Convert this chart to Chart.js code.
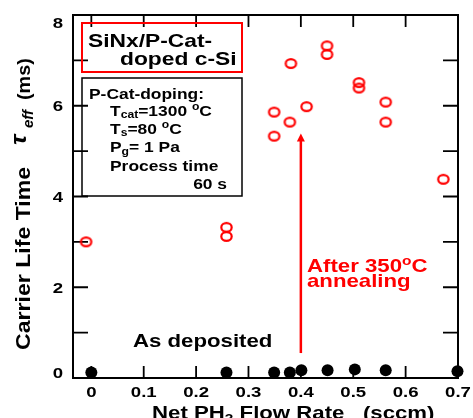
<!DOCTYPE html>
<html lang="en">
<head>
<meta charset="UTF-8">
<title>Carrier life time vs net PH3 flow rate</title>
<script src="https://cdn.jsdelivr.net/npm/chart.js@4"></script>
<style>
  html, body { margin: 0; padding: 0; background: #fff; }
</style>
</head>
<body>
<canvas id="lifetime" width="473" height="418"></canvas>
<script>
// after 350 C annealing (open red circles)
const annealX = [-0.01, 0.258, 0.258, 0.349, 0.349, 0.381, 0.379, 0.411, 0.450, 0.450, 0.511, 0.511, 0.562, 0.562, 0.672];
const annealY = [3.00, 3.32, 3.12, 5.86, 5.33, 6.93, 5.64, 5.98, 7.32, 7.13, 6.51, 6.39, 6.08, 5.64, 4.38];
// as deposited (filled black circles)
const depoX = [0, 0.258, 0.349, 0.379, 0.401, 0.451, 0.503, 0.562, 0.699];
const depoY = [0.12, 0.12, 0.12, 0.12, 0.17, 0.17, 0.19, 0.17, 0.15];

const xTicks = [0, 0.1, 0.2, 0.3, 0.4, 0.5, 0.6, 0.7];
const yTicks = [0, 2, 4, 6, 8];
const yMinor = [1, 3, 5, 7];

// annealing arrow at 0.4 sccm
const arrowX = 0.4;
const arrowFrom = 0.55;
const arrowTo = 5.39;

const FONT = '"Liberation Sans", Arial, sans-serif';
const WIDE = 1.2;   // the lettering is a little wider than plain Arial
const RED = '#ff0000';

// draws a run of text pieces; a piece is a string or [text, 'sub'|'sup', italic]
function rich(ctx, x, y, parts, size, color, align, stretch = WIDE) {
  ctx.save();
  ctx.translate(x, y);
  ctx.scale(stretch, 1);
  ctx.fillStyle = color;
  ctx.textBaseline = 'alphabetic';
  ctx.textAlign = 'left';
  const segs = parts.map(p => {
    const [t, mode, italic] = Array.isArray(p) ? p : [p];
    const s = mode ? size * 0.7 : size;
    const font = `${italic ? 'italic ' : ''}bold ${s}px ${FONT}`;
    ctx.font = font;
    return { t, mode, font, w: ctx.measureText(t).width };
  });
  const total = segs.reduce((a, g) => a + g.w, 0);
  let cx = align === 'right' ? -total : align === 'center' ? -total / 2 : 0;
  segs.forEach(g => {
    ctx.font = g.font;
    const dy = g.mode === 'sub' ? size * 0.2 : g.mode === 'sup' ? -size * 0.4 : 0;
    ctx.fillText(g.t, cx, dy);
    cx += g.w;
  });
  ctx.restore();
}

// open red ellipse used as the point marker for annealed samples
const ring = document.createElement('canvas');
ring.width = 15; ring.height = 13;
(() => {
  const c = ring.getContext('2d');
  c.strokeStyle = RED;
  c.lineWidth = 2.2;
  c.beginPath();
  c.ellipse(7.5, 6.5, 5.2, 4.3, 0, 0, Math.PI * 2);
  c.stroke();
})();

const frame = {
  id: 'frame',
  beforeDatasetsDraw(chart) {
    const { ctx, chartArea: a, scales: { x, y } } = chart;
    ctx.save();
    ctx.strokeStyle = '#000';
    ctx.lineWidth = 2;
    ctx.strokeRect(a.left, a.top, a.right - a.left, a.bottom - a.top);
    ctx.lineWidth = 1.8;
    ctx.beginPath();
    xTicks.forEach(v => {
      const px = x.getPixelForValue(v);
      ctx.moveTo(px, a.bottom); ctx.lineTo(px, a.bottom - 12);
      ctx.moveTo(px, a.top); ctx.lineTo(px, a.top + 12);
    });
    yTicks.concat(yMinor).forEach(v => {
      const py = y.getPixelForValue(v);
      ctx.moveTo(a.left, py); ctx.lineTo(a.left + 15, py);
      ctx.moveTo(a.right, py); ctx.lineTo(a.right - 15, py);
    });
    ctx.stroke();
    ctx.restore();

    xTicks.forEach(v => {
      rich(ctx, x.getPixelForValue(v), a.bottom + 19, [String(v)], 15.5, '#000', 'center');
    });
    yTicks.forEach(v => {
      const py = Math.min(Math.max(y.getPixelForValue(v), a.top + 7), a.bottom - 6);
      rich(ctx, 63, py + 5.5, [String(v)], 15.5, '#000', 'right');
    });
  },
  afterDraw(chart) {
    const { ctx, scales: { x, y } } = chart;

    // arrow
    const ax = x.getPixelForValue(arrowX);
    const y0 = y.getPixelForValue(arrowFrom);
    const y1 = y.getPixelForValue(arrowTo);
    ctx.save();
    ctx.strokeStyle = RED;
    ctx.fillStyle = RED;
    ctx.lineWidth = 2.5;
    ctx.beginPath();
    ctx.moveTo(ax, y0); ctx.lineTo(ax, y1 + 6);
    ctx.stroke();
    ctx.beginPath();
    ctx.moveTo(ax, y1); ctx.lineTo(ax - 4, y1 + 8); ctx.lineTo(ax + 4, y1 + 8);
    ctx.closePath(); ctx.fill();

    // boxes
    ctx.lineWidth = 2;
    ctx.strokeStyle = RED;
    ctx.strokeRect(82, 23, 160, 49);
    ctx.lineWidth = 1.5;
    ctx.strokeStyle = '#000';
    ctx.strokeRect(82, 78, 160, 118);
    ctx.restore();

    rich(ctx, 88, 47, ['SiNx/P-Cat-'], 19, '#000');
    rich(ctx, 120, 64.5, ['doped c-Si'], 19, '#000');

    rich(ctx, 89, 99, ['P-Cat-doping:'], 14.5, '#000');
    rich(ctx, 110, 115.5, ['T', ['cat', 'sub'], '=1300 ', ['o', 'sup'], 'C'], 14.5, '#000');
    rich(ctx, 110, 133.5, ['T', ['s', 'sub'], '=80 ', ['o', 'sup'], 'C'], 14.5, '#000');
    rich(ctx, 110, 152, ['P', ['g', 'sub'], '= 1 Pa'], 14.5, '#000');
    rich(ctx, 110, 170.5, ['Process time'], 14.5, '#000');
    rich(ctx, 227, 188.5, ['60 s'], 14.5, '#000', 'right');

    rich(ctx, 307, 272, ['After 350', ['o', 'sup'], 'C'], 18.5, RED);
    rich(ctx, 307, 287, ['annealing'], 18.5, RED);
    rich(ctx, 133, 347, ['As deposited'], 18.5, '#000');

    // axis titles
    rich(ctx, 152, 419, ['Net PH', ['3', 'sub'], ' Flow Rate   (sccm)'], 18.5, '#000');
    ctx.save();
    ctx.translate(30, 350);
    ctx.rotate(-Math.PI / 2);
    rich(ctx, 0, 0, ['Carrier Life Time'], 21, '#000', 'left', 1.1);
    rich(ctx, 205, -4, [['\u03c4', '', true]], 23, '#000', 'left', 1.1);
    rich(ctx, 222, 3, [['eff', '', true]], 15, '#000', 'left', 1.0);
    rich(ctx, 250, 0, ['(ms)'], 18, '#000', 'left', 1.1);
    ctx.restore();
  }
};

new Chart(document.getElementById('lifetime'), {
  type: 'scatter',
  data: {
    datasets: [
      {
        label: 'After 350 C annealing',
        data: annealX.map((v, i) => ({ x: v, y: annealY[i] })),
        pointStyle: ring,
        pointRadius: 6,
        clip: false
      },
      {
        label: 'As deposited',
        data: depoX.map((v, i) => ({ x: v, y: depoY[i] })),
        pointStyle: 'circle',
        pointRadius: 6,
        backgroundColor: '#000',
        borderColor: '#000',
        borderWidth: 0,
        clip: false
      }
    ]
  },
  options: {
    responsive: false,
    animation: false,
    layout: { padding: { top: 15, right: 15, left: 0, bottom: 0 } },
    plugins: { legend: { display: false }, tooltip: { enabled: false } },
    scales: {
      x: {
        min: -0.035, max: 0.7,
        grid: { display: false },
        border: { display: false },
        ticks: { display: false },
        afterFit: s => { s.height = 40; }
      },
      y: {
        min: 0, max: 8,
        grid: { display: false },
        border: { display: false },
        ticks: { display: false },
        afterFit: s => { s.width = 73; }
      }
    }
  },
  plugins: [frame]
});
</script>
</body>
</html>
